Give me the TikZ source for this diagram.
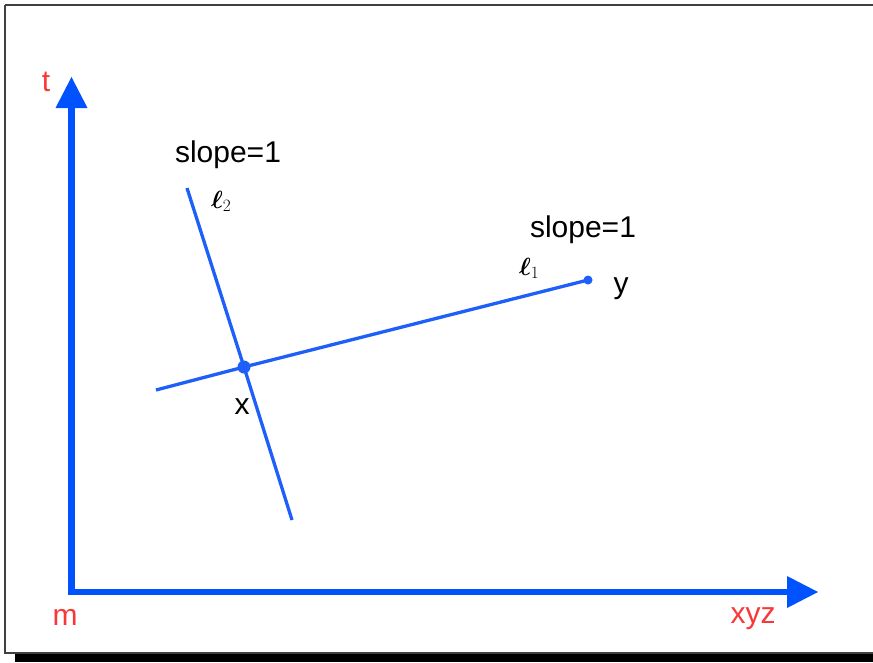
\documentclass[tikz,border=0pt]{standalone}
\usepackage{bm}
\usepackage{fontspec}
\setmainfont{Liberation Sans}
\usetikzlibrary{arrows.meta}
\definecolor{axblue}{RGB}{0,82,255}
\definecolor{lnblue}{RGB}{30,95,250}
\definecolor{lblred}{RGB}{250,55,55}
\tikzset{
  axisline/.style={draw=axblue, line width=6.5pt, line join=miter,
    {Triangle[length=31pt,width=32pt,line width=0pt]}-{Triangle[length=31pt,width=32pt,line width=0pt]}},
  geoline/.style={draw=lnblue, line width=3.3pt},
  redlbl/.style={text=lblred, font=\fontsize{30}{36}\selectfont, inner sep=0pt, anchor=base},
  blacklbl/.style={text=black, font=\fontsize{30}{36}\selectfont, inner sep=0pt, anchor=base},
  elllbl/.style={text=black, font=\fontsize{25}{30}\selectfont, inner sep=0pt, anchor=base west},
  bigdot/.style={circle, fill=lnblue, inner sep=0pt, minimum size=13pt},
  smalldot/.style={circle, fill=lnblue, inner sep=0pt, minimum size=9pt}
}
\begin{document}
\begin{tikzpicture}[x=1pt,y=-1pt]
\useasboundingbox (0,0) rectangle (873,662);
\fill[white] (0,0) rectangle (873,662);
% frame and shadow
\fill[black] (15,654) rectangle (880,662);
\draw[draw=black!75, line width=1.5pt] (5,5) -- (5,653) -- (880,653);
\draw[draw=black!75, line width=1.5pt] (5,5) -- (880,5);
% axes
\coordinate (ttip) at (71.5,77);
\coordinate (orig) at (71.5,592);
\coordinate (xtip) at (818,592);
\draw[axisline] (ttip) -- (orig) -- (xtip);
% axis labels
\node[redlbl] (tlab) at (46,91) {t};
\node[redlbl] (mlab) at (65,625) {m};
\node[redlbl] (xyzlab) at (753,623) {xyz};
% lines
\node[bigdot] (xdot) at (244,367) {};
\node[smalldot] (ydot) at (588,280) {};
\coordinate (l2top) at (187,188);
\coordinate (l2bot) at (292,520);
\coordinate (l1left) at (156,390);
\draw[geoline] (l2top) -- (xdot.center) -- (l2bot);
\draw[geoline] (l1left) -- (xdot.center) -- (ydot.center);
% labels
\node[blacklbl] (s2) at (228,162) {slope=1};
\node[blacklbl] (s1) at (583,237) {slope=1};
\node[elllbl] (el2) at (211,208) {$\bm{\ell}_2$};
\node[elllbl] (el1) at (519,275) {$\bm{\ell}_1$};
\node[blacklbl] (xlab) at (242,414) {x};
\node[blacklbl] (ylab) at (621,293) {y};
\end{tikzpicture}
\end{document}
